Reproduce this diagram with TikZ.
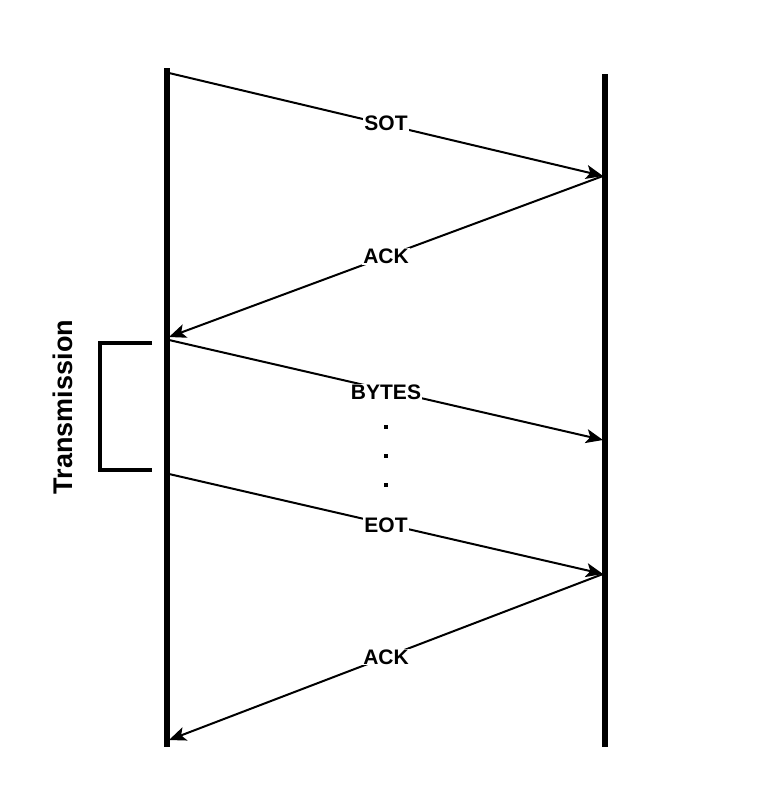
\documentclass[tikz,border=0pt]{standalone}
\usepackage{fontspec}
\setmainfont{Liberation Sans}
\usetikzlibrary{arrows.meta}
\tikzset{
  lifeline/.style={line width=5.5pt},
  msg/.style={line width=2pt,-{Stealth[length=17pt,width=14pt,inset=4pt]}},
  lbl/.style={fill=white,inner sep=1pt,font=\fontsize{21}{24}\selectfont\bfseries},
  bracket/.style={line width=3.8pt},
  dot/.style={fill=black,minimum size=4pt,inner sep=0pt}
}
\begin{document}
\begin{tikzpicture}[x=1pt,y=-1pt]
\useasboundingbox (0,0) rectangle (760,812);
% lifelines
\coordinate (Ltop) at (167,68);
\coordinate (Lbot) at (167,747);
\coordinate (Rtop) at (605,74);
\coordinate (Rbot) at (605,747);
\draw[lifeline] (Ltop) -- (Lbot);
\draw[lifeline] (Rtop) -- (Rbot);
% message endpoints
\coordinate (s1) at (169,73);
\coordinate (e1) at (603,176);
\coordinate (e2) at (169,337);
\coordinate (s3) at (169,340);
\coordinate (e3) at (603,440);
\coordinate (s4) at (169,474);
\coordinate (e4) at (603,574);
\coordinate (e5) at (169,740);
\draw[msg] (s1) -- (e1) node[lbl,pos=0.5,yshift=1pt] (sot) {SOT};
\draw[msg] (e1) -- (e2) node[lbl,pos=0.5] (ack1) {ACK};
\draw[msg] (s3) -- (e3) node[lbl,pos=0.5,yshift=-2pt] (bytes) {BYTES};
\draw[msg] (s4) -- (e4) node[lbl,pos=0.5,yshift=-1pt] (eot) {EOT};
\draw[msg] (e4) -- (e5) node[lbl,pos=0.5] (ack2) {ACK};
% dots
\node[dot] (d1) at (386,427) {};
\node[dot] (d2) at (386,456) {};
\node[dot] (d3) at (386,485) {};
% bracket
\coordinate (b1) at (152,343);
\coordinate (b2) at (100,343);
\coordinate (b3) at (100,470);
\coordinate (b4) at (152,470);
\draw[bracket] (b1) -- (b2) -- (b3) -- (b4);
\node[rotate=90,font=\fontsize{27}{30}\selectfont\bfseries] (trans) at (63,407) {Transmission};
\end{tikzpicture}
\end{document}
